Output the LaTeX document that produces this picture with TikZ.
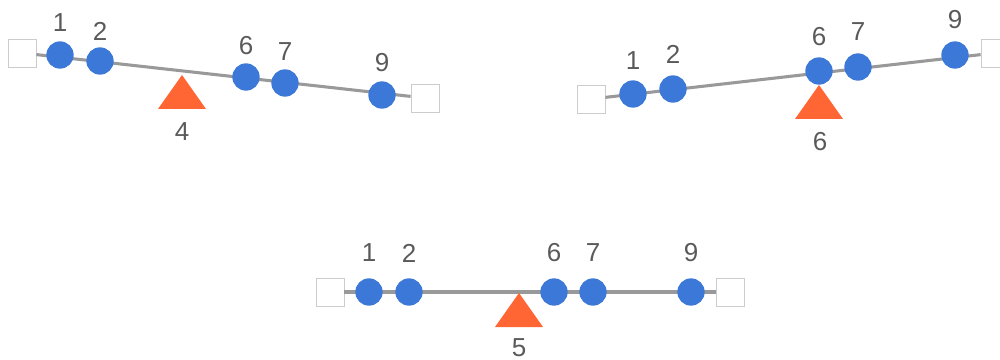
\documentclass[tikz,border=0pt]{standalone}
\usepackage{fontspec}
\setmainfont{Liberation Sans}
\definecolor{dotblue}{HTML}{3C78D8}
\definecolor{triorange}{HTML}{FF6633}
\definecolor{beamgray}{HTML}{999999}
\definecolor{labgray}{HTML}{5A5A5A}
\definecolor{boxgray}{HTML}{CCCCCC}
\begin{document}
\begin{tikzpicture}[x=0.75pt,y=-0.75pt,
  dot/.style={circle,fill=dotblue,inner sep=0pt,minimum size=20.5pt},
  endbox/.style={rectangle,draw=boxgray,line width=0.6pt,fill=white,inner sep=0pt,minimum size=21pt},
  beam/.style={draw=beamgray,line width=2.3pt},
  lab/.style={text=labgray,font=\fontsize{19.5}{19.5}\selectfont,inner sep=0pt},
  fulcrum/.style={fill=triorange}]
\useasboundingbox (0,0) rectangle (1000,360);
\clip (0,0) rectangle (1000,360);

% ---------- panel A (top left) ----------
\node[endbox] (aL) at (22,53) {};
\node[endbox] (aR) at (425,98) {};
\draw[beam] (aL) -- (aR);
\fill[fulcrum] (182,75) -- (206,109) -- (158,109) -- cycle;
\node[lab] (aT) at (182,132) {4};
\node[dot] (a1) at (60,55) {};
\node[dot] (a2) at (100,61) {};
\node[dot] (a6) at (246,77) {};
\node[dot] (a7) at (285,83) {};
\node[dot] (a9) at (382,95) {};
\node[lab] (a1l) at (60,23) {1};
\node[lab] (a2l) at (100,31) {2};
\node[lab] (a6l) at (246,46) {6};
\node[lab] (a7l) at (285,52) {7};
\node[lab] (a9l) at (382,63) {9};

% ---------- panel B (top right) ----------
\node[endbox] (bL) at (591,99) {};
\node[endbox] (bR) at (995,53) {};
\draw[beam] (bL) -- (bR);
\fill[fulcrum] (819,85) -- (843,119) -- (795,119) -- cycle;
\node[lab] (bT) at (820,142) {6};
\node[dot] (b1) at (633,94) {};
\node[dot] (b2) at (673,89) {};
\node[dot] (b6) at (819,71) {};
\node[dot] (b7) at (858,67) {};
\node[dot] (b9) at (955,55) {};
\node[lab] (b1l) at (633,61) {1};
\node[lab] (b2l) at (673,54) {2};
\node[lab] (b6l) at (819,37) {6};
\node[lab] (b7l) at (858,32) {7};
\node[lab] (b9l) at (955,20) {9};

% ---------- panel C (bottom) ----------
\node[endbox] (cL) at (330,292) {};
\node[endbox] (cR) at (730,292) {};
\draw[beam] (cL) -- (cR);
\fill[fulcrum] (519,293) -- (543,327) -- (495,327) -- cycle;
\node[lab] (cT) at (519,348) {5};
\node[dot] (c1) at (369,292) {};
\node[dot] (c2) at (409,292) {};
\node[dot] (c6) at (554,292) {};
\node[dot] (c7) at (593,292) {};
\node[dot] (c9) at (691,292) {};
\node[lab] (c1l) at (369,253) {1};
\node[lab] (c2l) at (409,253) {2};
\node[lab] (c6l) at (554,253) {6};
\node[lab] (c7l) at (593,253) {7};
\node[lab] (c9l) at (691,253) {9};
\end{tikzpicture}
\end{document}
